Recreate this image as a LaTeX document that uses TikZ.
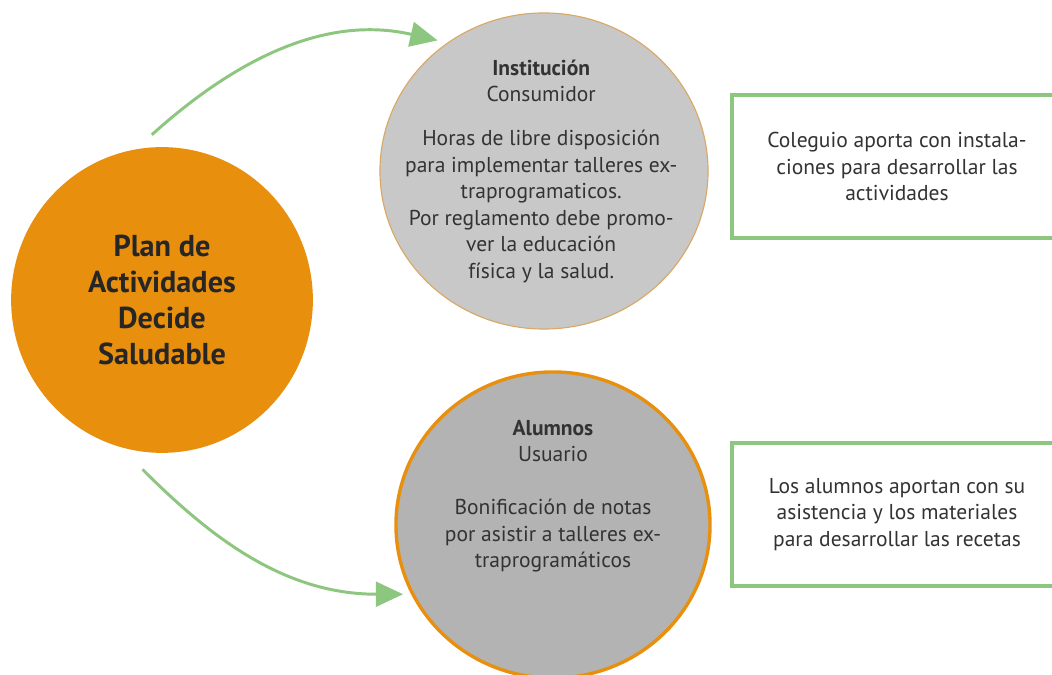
\documentclass[tikz,border=0pt]{standalone}
\usepackage{fontspec}
\setmainfont{PT Sans}
\usetikzlibrary{arrows.meta, positioning, shapes.geometric}
\definecolor{corange}{HTML}{E8900E}
\definecolor{cgreen}{HTML}{8DC67E}
\definecolor{cgreylight}{HTML}{C8C8C8}
\definecolor{cgreydark}{HTML}{B3B3B3}
\definecolor{ctext}{HTML}{333333}
\definecolor{ctan}{HTML}{D9A865}
\tikzset{
  every picture/.style={line width=1.2pt},
  bubble/.style={ellipse, draw=#1, inner sep=0pt, align=center},
  body/.style={font=\fontsize{15.3}{18.8}\selectfont, text=ctext, align=center},
  infobox/.style={draw=cgreen, line width=3pt, minimum width=8.25cm, minimum height=3.575cm, body},
  arrow/.style={-{Triangle[length=0.68cm, width=0.62cm]}, draw=cgreen, line width=2.1pt},
  title/.style={font=\fontsize{21.5}{25.8}\selectfont\bfseries, text=black!85, align=center},
}

\begin{document}
\begin{tikzpicture}[x=0.025cm, y=0.025cm]
  \useasboundingbox (0,0) rectangle (1052,675);
  \fill[white] (0,0) rectangle (1052,675);
  \clip (0,0) rectangle (1052,675);
  % main circle
  \node[bubble=corange, fill=corange, minimum width=7.5cm, minimum height=7.6cm, title] (plan) at (162,375)
    {Plan de\\ Actividades\\ Decide\\ Saludable};
  % the two actors
  \node[bubble=ctan, fill=cgreylight, line width=0.8pt, minimum width=8.2cm, minimum height=7.9cm] (inst) at (544,504) {};
  \node[body] (instTxt) at ([xshift=-0.07cm]inst.center)
    {\textbf{Institución}\\ Consumidor\\[0.45cm] Horas de libre disposición\\ para implementar talleres ex-\\ traprogramaticos.\\ Por reglamento debe promo-\\ ver la educación\\ física y la salud.};
  \node[bubble=corange, fill=cgreydark, line width=2.4pt, minimum width=7.85cm, minimum height=7.65cm] (alum) at (553,150) {};
  \node[body] (alumTxt) at ([yshift=0.72cm]alum.center)
    {\textbf{Alumnos}\\ Usuario\\[0.66cm] Bonificación de notas\\ por asistir a talleres ex-\\ traprogramáticos};
  % contributions
  \node[infobox] (aporteInst) at (897,508.5)
    {Coleguio aporta con instala-\\ ciones para desarrollar las\\ actividades};
  \node[infobox] (aporteAlum) at (897,160.5)
    {Los alumnos aportan con su\\ asistencia y los materiales\\ para desarrollar las recetas};
  % connectors
  \draw[arrow, shorten <=0.55cm, shorten >=0.25cm] (plan.100) to[out=42, in=167] (inst.127);
  \draw[arrow, shorten <=0.8cm, shorten >=0.2cm] (plan.254) to[out=-45, in=180] (alum.206);
\end{tikzpicture}
\end{document}
